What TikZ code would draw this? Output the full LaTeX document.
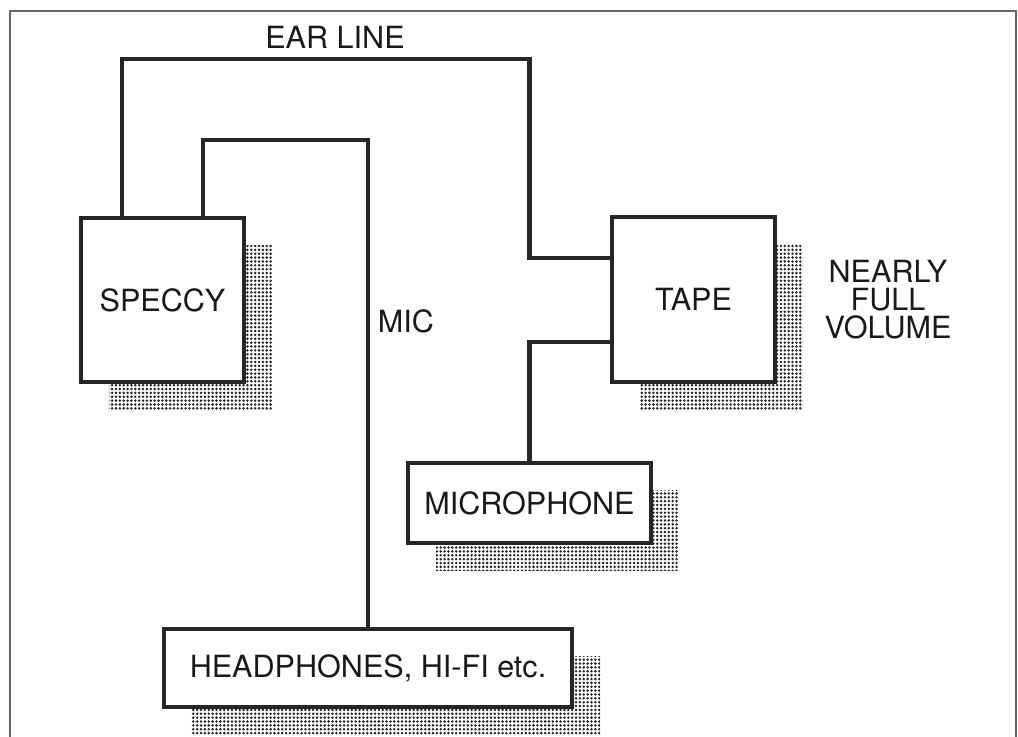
\documentclass[tikz,border=0pt]{standalone}
\usepackage{fontspec}
\setmainfont{TeX Gyre Heros}
\usetikzlibrary{calc,shadows,patterns.meta}
\tikzset{
	unit/.style={draw=black!85, line width=0.9pt, fill=white, inner sep=0pt,
		font=\fontsize{8.7}{8}\selectfont, text=black!90,
		drop shadow={shadow xshift=0.28cm, shadow yshift=-0.28cm, opacity=1,
			pattern={Dots[distance=1.1pt, radius=0.4pt]}, pattern color=black!85}},
	wire/.style={draw=black!85, line width=1.2pt},
	tag/.style={font=\fontsize{8.7}{8}\selectfont, text=black!90, inner sep=0pt}
}

\begin{document}
\begin{tikzpicture}
			%%%%% START %%%%%
			\useasboundingbox (0, 0) rectangle (10.18, 7.37);
			
			\draw[line width=0.6pt, color=black!60] (0.10, -0.1) -- (0.10, 7.26) -- (10.16, 7.26) -- (10.16, -0.1);
			
			\node[unit, minimum width=1.63cm, minimum height=1.64cm] (speccy) at (1.625, 4.37) {SPECCY};
			\node[unit, minimum width=1.63cm, minimum height=1.65cm] (tape) at (6.935, 4.375) {TAPE};
			\node[unit, minimum width=2.43cm, minimum height=0.80cm] (microphone) at (5.295, 2.34) {MICROPHONE};
			\node[unit, minimum width=4.08cm, minimum height=0.78cm] (hifi) at (3.68, 0.69) {HEADPHONES, HI-FI etc.};
			
			\coordinate (earcorner) at (1.22, 6.78);
			\coordinate (miccorner) at (2.03, 5.97);
			
			\draw[wire] (speccy.north -| earcorner) |- (earcorner -| microphone.north) |- ([yshift=4.15mm]tape.west);
			\draw[wire] ([yshift=-4.25mm]tape.west) -| (microphone.north);
			\draw[wire] (speccy.north -| miccorner) |- (hifi.north |- miccorner) -- (hifi.north);
			
			\node[tag] (earlabel) at (3.35, 7.0) {EAR LINE};
			\node[tag] (miclabel) at (4.06, 4.16) {MIC};
			\node[tag, align=center] (volume) at (8.88, 4.37) {NEARLY\\FULL\\VOLUME};
			
			%%%%% END %%%%%
\end{tikzpicture}
\end{document}
